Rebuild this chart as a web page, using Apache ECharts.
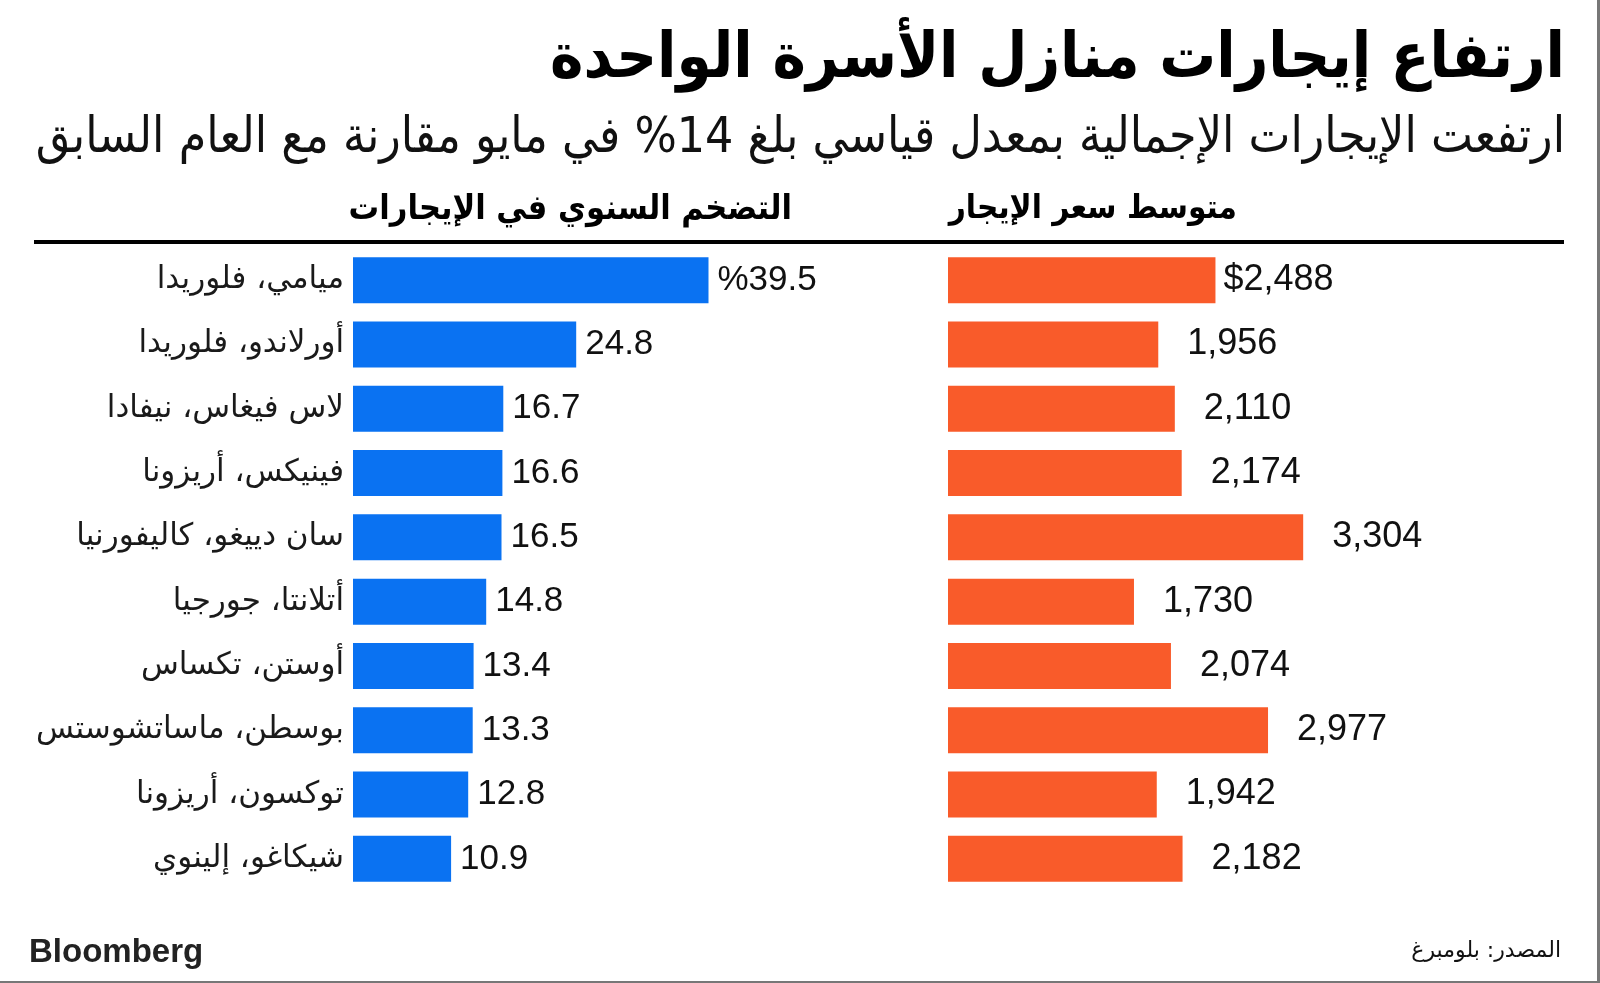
<!DOCTYPE html>
<html>
<head>
<meta charset="utf-8">
<script src="https://cdn.jsdelivr.net/npm/echarts@6/dist/echarts.min.js"></script>
<style>
html,body{margin:0;padding:0;background:#fff;}
#chart{width:1600px;height:983px;}
</style>
</head>
<body>
<div id="chart"></div>
<script>
const cities = ['ميامي، فلوريدا','أورلاندو، فلوريدا','لاس فيغاس، نيفادا','فينيكس، أريزونا','سان دييغو، كاليفورنيا','أتلانتا، جورجيا','أوستن، تكساس','بوسطن، ماساتشوستس','توكسون، أريزونا','شيكاغو، إلينوي'];
const inflation = [39.5, 24.8, 16.7, 16.6, 16.5, 14.8, 13.4, 13.3, 12.8, 10.9];
const avgRent = [2488, 1956, 2110, 2174, 3304, 1730, 2074, 2977, 1942, 2182];

const titleText = 'ارتفاع إيجارات منازل الأسرة الواحدة';
const subtitleText = 'ارتفعت الإيجارات الإجمالية بمعدل قياسي بلغ 14% في مايو مقارنة مع العام السابق';
const headerLeft = 'التضخم السنوي في الإيجارات';
const headerRight = 'متوسط سعر الإيجار';
const sourceText = 'المصدر: بلومبرغ';
const brandText = 'Bloomberg';

const AR = '"DejaVu Sans", "Noto Sans", sans-serif';
const NUM = '"Liberation Sans", Arial, sans-serif';
const ARC = '"DejaVu Sans Condensed", "DejaVu Sans", sans-serif';

const chart = echarts.init(document.getElementById('chart'), null, {renderer:'canvas'});
const gridTop = 248, gridH = 643;
chart.setOption({
  animation:false,
  backgroundColor:'#fff',
  grid:[
    {left:353, top:gridTop, width:450, height:gridH},
    {left:948, top:gridTop, width:430, height:gridH}
  ],
  xAxis:[
    {gridIndex:0, type:'value', min:0, max:50, show:false},
    {gridIndex:1, type:'value', min:0, max:4000, show:false}
  ],
  yAxis:[
    {gridIndex:0, type:'category', data:cities, inverse:true,
     axisLine:{show:false}, axisTick:{show:false}, splitLine:{show:false},
     axisLabel:{fontFamily:AR, fontSize:31, color:'#1a1a1a', margin:9}},
    {gridIndex:1, type:'category', data:cities, inverse:true, show:false}
  ],
  series:[
    {type:'bar', xAxisIndex:0, yAxisIndex:0, data:inflation, barWidth:46,
     itemStyle:{color:'#0A72F2'},
     label:{show:true, position:'right', distance:9, fontFamily:NUM, fontSize:35, color:'#111',
       formatter:p => (p.dataIndex===0 ? '%' : '') + p.value.toFixed(1)}},
    {type:'bar', xAxisIndex:1, yAxisIndex:1, data:avgRent, barWidth:46,
     itemStyle:{color:'#F95B2A'},
     label:{show:true, position:'right', distance:8, fontFamily:NUM, fontSize:36, color:'#111',
       formatter:p => (p.dataIndex===0 ? '$' : '{h|$}') + p.value.toLocaleString('en-US'),
       rich:{h:{fontFamily:NUM, fontSize:36, color:'rgba(0,0,0,0)', width:21}}}}
  ],
  graphic:[
    {type:'text', right:35, top:29, style:{text:titleText, font:'bold 63px ' + ARC, fill:'#000'}},
    {type:'text', right:35, top:114, style:{text:subtitleText, font:'49.5px ' + ARC, fill:'#111'}},
    {type:'text', right:1600-792, top:193, style:{text:headerLeft, font:'bold 34px ' + ARC, fill:'#000'}},
    {type:'text', right:1600-1237, top:193, style:{text:headerRight, font:'bold 33px ' + ARC, fill:'#000'}},
    {type:'rect', shape:{x:34, y:240, width:1530, height:4}, style:{fill:'#000'}},
    {type:'text', left:29, top:936, style:{text:brandText, font:'bold 33px "Liberation Sans", Arial, sans-serif', fill:'#222'}},
    {type:'text', right:39, top:940, style:{text:sourceText, font:'22px "DejaVu Sans", sans-serif', fill:'#111'}},
    {type:'rect', shape:{x:1597, y:0, width:3, height:983}, style:{fill:'#777'}},
    {type:'rect', shape:{x:0, y:981, width:1600, height:2}, style:{fill:'#777'}}
  ]
});
</script>
</body>
</html>
